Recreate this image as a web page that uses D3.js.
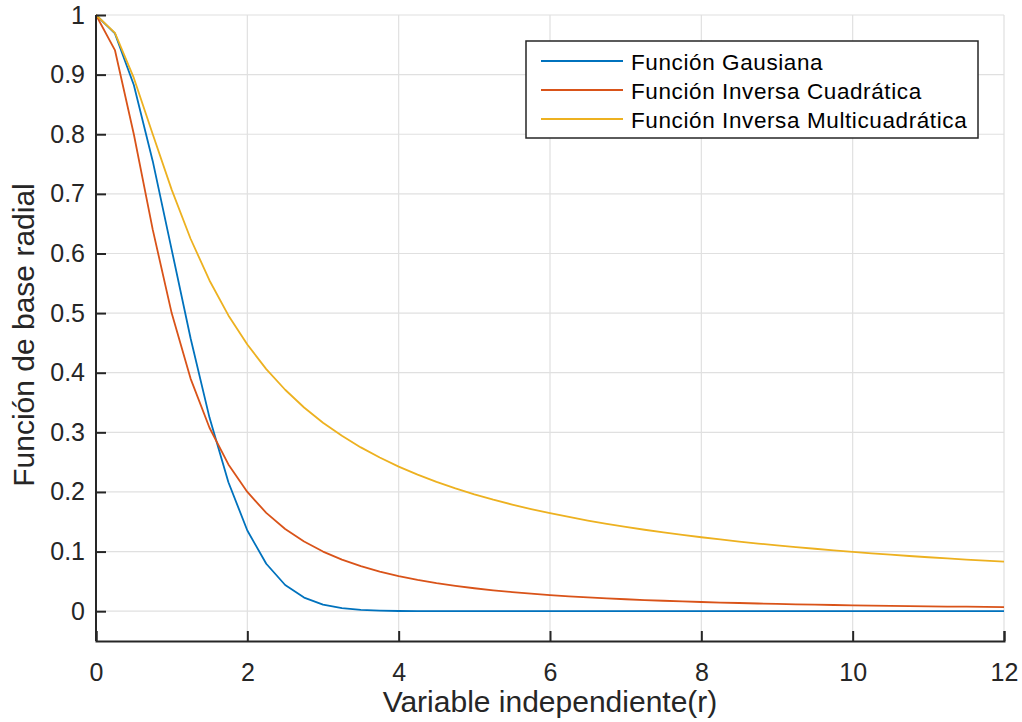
<!DOCTYPE html>
<html><head><meta charset="utf-8">
<script src="https://cdn.jsdelivr.net/npm/d3@7"></script>
<style>body{margin:0;background:#fff}svg{display:block}text{font-family:"Liberation Sans",Arial,sans-serif;fill:#262626}</style>
</head><body><svg id="c" width="1022" height="722"></svg>
<script>
const radius = [0,0.25,0.5,0.75,1,1.25,1.5,1.75,2,2.25,2.5,2.75,3,3.25,3.5,3.75,4,4.25,4.5,4.75,5,5.25,5.5,5.75,6,6.25,6.5,6.75,7,7.25,7.5,7.75,8,8.25,8.5,8.75,9,9.25,9.5,9.75,10,10.25,10.5,10.75,11,11.25,11.5,11.75,12];
const gaussian = [1,0.9692,0.8825,0.7548,0.6065,0.4578,0.3247,0.2163,0.1353,0.0796,0.0439,0.0228,0.0111,0.0051,0.0022,0.0009,0.0003,0.0001,0,0,0,0,0,0,0,0,0,0,0,0,0,0,0,0,0,0,0,0,0,0,0,0,0,0,0,0,0,0,0];
const invQuad = [1,0.9412,0.8,0.64,0.5,0.3902,0.3077,0.2462,0.2,0.1649,0.1379,0.1168,0.1,0.0865,0.0755,0.0664,0.0588,0.0525,0.0471,0.0425,0.0385,0.0350,0.0320,0.0293,0.0270,0.0250,0.0231,0.0215,0.0200,0.0187,0.0175,0.0164,0.0154,0.0145,0.0137,0.0129,0.0122,0.0116,0.0110,0.0104,0.0099,0.0094,0.0090,0.0086,0.0082,0.0078,0.0075,0.0072,0.0069];
const invMulti = [1,0.9701,0.8944,0.8,0.7071,0.6247,0.5547,0.4961,0.4472,0.4061,0.3714,0.3417,0.3162,0.2941,0.2747,0.2577,0.2425,0.2291,0.2169,0.2060,0.1961,0.1871,0.1789,0.1713,0.1644,0.1580,0.1521,0.1466,0.1414,0.1366,0.1322,0.1280,0.1240,0.1203,0.1168,0.1135,0.1104,0.1075,0.1047,0.1020,0.0995,0.0971,0.0948,0.0926,0.0905,0.0885,0.0866,0.0848,0.0830];
const seriesNames = ["Función Gausiana","Función Inversa Cuadrática","Función Inversa Multicuadrática"];
const seriesColors = ["#0072BD","#D95319","#EDB120"];
const xTicks = [0,2,4,6,8,10,12];
const yTicks = [0,0.1,0.2,0.3,0.4,0.5,0.6,0.7,0.8,0.9,1];
const xLabel = "Variable independiente(r)";
const yLabel = "Función de base radial";

const svg = d3.select("#c");
const L=96, R=1004, T=15, B=641;
const x = d3.scaleLinear().domain([0,12]).range([L,R]);
const y = d3.scaleLinear().domain([-0.05,1]).range([B,T]);

// grid
const g = svg.append("g");
g.selectAll("line.vx").data(xTicks).join("line").attr("class","vx")
  .attr("x1",d=>x(d)).attr("x2",d=>x(d)).attr("y1",T).attr("y2",B)
  .attr("stroke","#e0e0e0").attr("stroke-width",1.2);
g.selectAll("line.hy").data(yTicks).join("line").attr("class","hy")
  .attr("x1",L).attr("x2",R).attr("y1",d=>y(d)).attr("y2",d=>y(d))
  .attr("stroke","#e0e0e0").attr("stroke-width",1.2);

// lines
const allSeries = [gaussian, invQuad, invMulti];
const line = d3.line().x((d,i)=>x(radius[i])).y(d=>y(d));
allSeries.forEach((s,k)=>{
  svg.append("path").datum(s).attr("d",line).attr("fill","none")
    .attr("stroke",seriesColors[k]).attr("stroke-width",1.8).attr("stroke-linejoin","round");
});

// axes
const xAxis = d3.axisBottom(x).tickValues(xTicks).tickSizeInner(-10).tickSizeOuter(-10).tickPadding(22).tickFormat(d3.format("d"));
const yAxis = d3.axisLeft(y).tickValues(yTicks).tickSizeInner(-10).tickSizeOuter(0).tickPadding(11).tickFormat(d=>d===0?"0":d===1?"1":d3.format(".1f")(d));
const gx = svg.append("g").attr("transform",`translate(0,${B})`).call(xAxis);
const gy = svg.append("g").attr("transform",`translate(${L},0)`).call(yAxis);
[gx,gy].forEach(a=>{
  a.attr("font-size",25).attr("font-family","Liberation Sans, Arial, sans-serif");
  a.selectAll("path.domain").attr("stroke","#262626").attr("stroke-width",2);
  a.selectAll(".tick line").attr("stroke","#262626").attr("stroke-width",2);
  a.selectAll(".tick text").attr("font-size",25).attr("fill","#262626");
});
gy.select("path.domain").attr("d",`M0,${B}V${T}`);

svg.append("text").attr("x",(L+R)/2).attr("y",712).attr("text-anchor","middle").attr("font-size",30).text(xLabel);
svg.append("text").attr("transform",`translate(33.5,335) rotate(-90)`).attr("text-anchor","middle").attr("font-size",30).text(yLabel);

// legend
const lg = svg.append("g");
lg.append("rect").attr("x",526).attr("y",41).attr("width",452).attr("height",97).attr("fill","#fff").attr("stroke","#262626").attr("stroke-width",1.5);
seriesNames.forEach((n,k)=>{
  const yy = 61 + k*29;
  lg.append("line").attr("x1",541).attr("x2",623).attr("y1",yy).attr("y2",yy).attr("stroke",seriesColors[k]).attr("stroke-width",1.8);
  lg.append("text").attr("x",631).attr("y",yy+8.5).attr("font-size",22.5).attr("letter-spacing",0.6).style("fill","#000").text(n);
});
</script></body></html>
